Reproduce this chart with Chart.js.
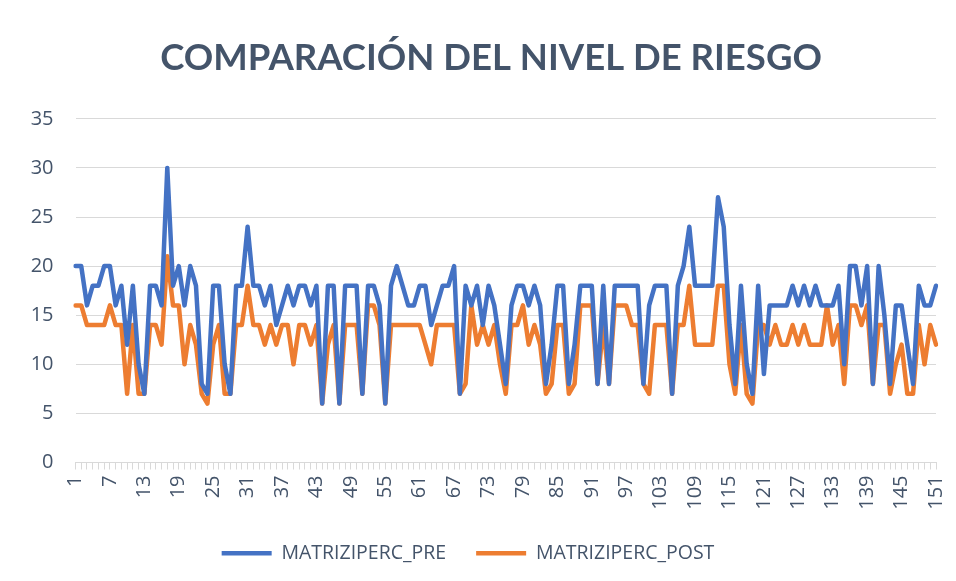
<!DOCTYPE html>
<html>
<head>
<meta charset="utf-8">
<script src="https://cdn.jsdelivr.net/npm/chart.js@4.4.1/dist/chart.umd.min.js"></script>
<style>
  body { margin: 0; background: #fff; }
  #wrap { width: 956px; height: 581px; position: relative; }
</style>
</head>
<body>
<div id="wrap"><canvas id="riskChart"></canvas></div>
<script>
// --- datos del gráfico ---
const categories = Array.from({ length: 151 }, (_, i) => String(i + 1));
const tickLabels = ['1', '7', '13', '19', '25', '31', '37', '43', '49', '55', '61', '67', '73',
  '79', '85', '91', '97', '103', '109', '115', '121', '127', '133', '139', '145', '151'];

const matrizPre = [
  20, 20, 16, 18, 18, 20, 20, 16, 18, 12,
  18, 10, 7, 18, 18, 16, 30, 18, 20, 16,
  20, 18, 8, 7, 18, 18, 10, 7, 18, 18,
  24, 18, 18, 16, 18, 14, 16, 18, 16, 18,
  18, 16, 18, 6, 18, 18, 6, 18, 18, 18,
  7, 18, 18, 16, 6, 18, 20, 18, 16, 16,
  18, 18, 14, 16, 18, 18, 20, 7, 18, 16,
  18, 14, 18, 16, 12, 8, 16, 18, 18, 16,
  18, 16, 8, 12, 18, 18, 8, 12, 18, 18,
  18, 8, 18, 8, 18, 18, 18, 18, 18, 8,
  16, 18, 18, 18, 7, 18, 20, 24, 18, 18,
  18, 18, 27, 24, 14, 8, 18, 10, 7, 18,
  9, 16, 16, 16, 16, 18, 16, 18, 16, 18,
  16, 16, 16, 18, 10, 20, 20, 16, 20, 8,
  20, 15, 8, 16, 16, 12, 8, 18, 16, 16, 18
];

const matrizPost = [
  16, 16, 14, 14, 14, 14, 16, 14, 14, 7,
  14, 7, 7, 14, 14, 12, 21, 16, 16, 10,
  14, 12, 7, 6, 12, 14, 7, 7, 14, 14,
  18, 14, 14, 12, 14, 12, 14, 14, 10, 14,
  14, 12, 14, 6, 12, 14, 6, 14, 14, 14,
  7, 16, 16, 14, 6, 14, 14, 14, 14, 14,
  14, 12, 10, 14, 14, 14, 14, 7, 8, 16,
  12, 14, 12, 14, 10, 7, 14, 14, 16, 12,
  14, 12, 7, 8, 14, 14, 7, 8, 16, 16,
  16, 8, 14, 8, 16, 16, 16, 14, 14, 8,
  7, 14, 14, 14, 7, 14, 14, 18, 12, 12,
  12, 12, 18, 18, 10, 7, 14, 7, 6, 14,
  14, 12, 14, 12, 12, 14, 12, 14, 12, 12,
  12, 16, 12, 14, 8, 16, 16, 14, 16, 8,
  14, 14, 7, 10, 12, 7, 7, 14, 10, 14, 12
];

const textColor = '#44546A';
const gridColor = '#D9D9D9';

// el título del original está un poco desplazado a la derecha
const titleShift = {
  id: 'titleShift',
  afterLayout(chart) {
    if (chart.titleBlock) chart.titleBlock.left = 46;
  }
};

const ctx = document.getElementById('riskChart');
new Chart(ctx, {
  type: 'line',
  data: {
    labels: categories,
    datasets: [
      {
        label: 'MATRIZIPERC_PRE',
        data: matrizPre,
        borderColor: '#4472C4',
        backgroundColor: '#4472C4',
        borderWidth: 4.5,
        borderCapStyle: 'round',
        borderJoinStyle: 'round',
        pointRadius: 0,
        pointStyle: 'line',
        tension: 0
      },
      {
        label: 'MATRIZIPERC_POST',
        data: matrizPost,
        borderColor: '#ED7D31',
        backgroundColor: '#ED7D31',
        borderWidth: 4.5,
        borderCapStyle: 'round',
        borderJoinStyle: 'round',
        pointRadius: 0,
        pointStyle: 'line',
        tension: 0
      }
    ]
  },
  plugins: [titleShift],
  options: {
    responsive: true,
    maintainAspectRatio: false,
    animation: false,
    layout: { padding: { left: 0, right: 20, top: 20, bottom: 8 } },
    plugins: {
      tooltip: { enabled: false },
      title: {
        display: true,
        text: 'COMPARACIÓN DEL NIVEL DE RIESGO',
        color: textColor,
        font: { family: 'Lato', size: 36.5, weight: 'bold' },
        padding: { top: 16, bottom: 39 }
      },
      legend: {
        position: 'bottom',
        labels: {
          usePointStyle: true,
          pointStyleWidth: 50,
          color: textColor,
          font: { family: 'Open Sans', size: 19.5 },
          padding: 30
        }
      }
    },
    scales: {
      x: {
        afterFit: (scale) => {
          scale.height = 51;
          scale.paddingLeft = 0;
          scale.paddingRight = 0;
        },
        grid: { display: true, drawOnChartArea: false, color: gridColor, tickLength: 7 },
        border: { color: gridColor },
        ticks: {
          autoSkip: false,
          maxRotation: 90,
          minRotation: 90,
          color: textColor,
          font: { family: 'Open Sans', size: 20 },
          padding: 6,
          callback: function (value) {
            const lab = this.getLabelForValue(value);
            return tickLabels.includes(lab) ? lab : '';
          }
        }
      },
      y: {
        min: 0,
        max: 35,
        afterFit: (scale) => { scale.width = 75.5; },
        grid: { color: gridColor, drawTicks: false },
        border: { display: false },
        ticks: {
          stepSize: 5,
          color: textColor,
          font: { family: 'Open Sans', size: 20 },
          padding: 22
        }
      }
    }
  }
});
</script>
</body>
</html>
